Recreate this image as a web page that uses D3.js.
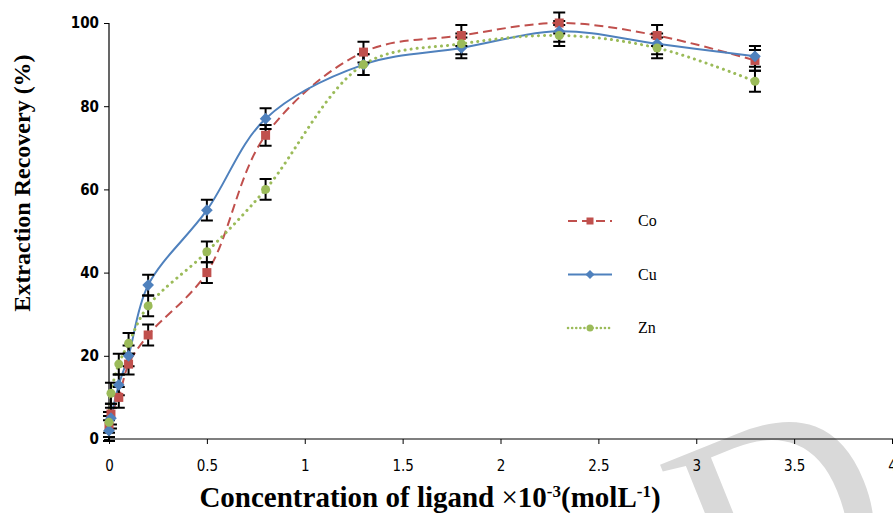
<!DOCTYPE html>
<html>
<head>
<meta charset="utf-8">
<script src="https://cdn.jsdelivr.net/npm/d3@7"></script>
<style>
  body { margin: 0; background: #fff; }
  svg { display: block; }
</style>
</head>
<body>
<script>
// concentration of ligand (x10^-3 mol/L)
const conc = [0, 0.01, 0.05, 0.1, 0.2, 0.5, 0.8, 1.3, 1.8, 2.3, 2.8, 3.3];
const coValues = [3, 6, 10, 18, 25, 40, 73, 93, 97, 100, 97, 91];
const cuValues = [2, 5, 13, 20, 37, 55, 77, 90, 94, 98, 95, 92];
const znValues = [4, 11, 18, 23, 32, 45, 60, 90, 95, 97, 94, 86];
const errValues = [2.5, 2.5, 2.5, 2.5, 2.5, 2.5, 2.5, 2.5, 2.5, 2.5, 2.5, 2.5];
const xTicks = [0, 0.5, 1, 1.5, 2, 2.5, 3, 3.5, 4];
const yTicks = [0, 20, 40, 60, 80, 100];

const series = [
  {name: "Co", values: coValues, color: "#C0504D", dash: "9,5", shape: "square"},
  {name: "Cu", values: cuValues, color: "#4F81BD", dash: null, shape: "diamond"},
  {name: "Zn", values: znValues, color: "#9BBB59", dash: "0.1,6", shape: "circle"}
];

const width = 893, height = 513;
const svg = d3.select("body").append("svg")
  .attr("width", width)
  .attr("height", height);

// watermark
svg.append("text")
  .attr("transform", "translate(815, 600) rotate(-22)")
  .attr("text-anchor", "middle")
  .attr("font-family", "Liberation Serif")
  .attr("font-size", 280)
  .attr("fill", "#d9d9d9")
  .text("D");

const xscale = d3.scaleLinear().domain([0, 4]).range([109, 892]);
const yscale = d3.scaleLinear().domain([0, 100]).range([439, 23]);

const xaxis = d3.axisBottom(xscale)
  .tickValues(xTicks)
  .tickFormat(d3.format("~g"))
  .tickSize(5)
  .tickPadding(16);

const yaxis = d3.axisLeft(yscale)
  .tickValues(yTicks)
  .tickSize(5)
  .tickPadding(5);

const gx = svg.append("g")
  .attr("transform", `translate(0, ${yscale(0)})`)
  .call(xaxis);
gx.select(".domain").attr("d", `M${xscale(0)},0H${width}`).attr("stroke-width", 1.2);
gx.selectAll("text")
  .attr("font-family", "'Liberation Sans Narrow', 'DejaVu Sans Condensed', sans-serif")
  .attr("font-size", 15)
  .attr("fill", "#000");

const gy = svg.append("g")
  .attr("transform", `translate(${xscale(0)}, 0)`)
  .call(yaxis);
gy.select(".domain").attr("d", `M0,${yscale(100)}V${yscale(0)}`).attr("stroke-width", 1.2);
gy.selectAll("text")
  .attr("font-family", "'Liberation Sans Narrow', 'DejaVu Sans Condensed', sans-serif")
  .attr("font-weight", "bold")
  .attr("font-size", 15)
  .attr("fill", "#000");

// axis titles
svg.append("text")
  .attr("transform", "translate(30, 183) rotate(-90)")
  .attr("text-anchor", "middle")
  .attr("font-family", "Liberation Serif")
  .attr("font-weight", "bold")
  .attr("font-size", 24)
  .text("Extraction Recovery (%)");

const xt = svg.append("text")
  .attr("x", 430)
  .attr("y", 507)
  .attr("text-anchor", "middle")
  .attr("font-family", "Liberation Serif")
  .attr("font-weight", "bold")
  .attr("font-size", 29);
xt.append("tspan").text("Concentration of ligand ");
xt.append("tspan").attr("font-weight", "normal").text("\u00d7");
xt.append("tspan").text("10");
xt.append("tspan").attr("dy", -10).attr("font-size", 17).text("-3");
xt.append("tspan").attr("dy", 10).text("(molL");
xt.append("tspan").attr("dy", -10).attr("font-size", 17).text("-1");
xt.append("tspan").attr("dy", 10).text(")");

const line = d3.line()
  .x((d, i) => xscale(conc[i]))
  .y(d => yscale(d))
  .curve(d3.curveCatmullRom.alpha(0.5));

function drawMarker(g, shape, color, x, y, s) {
  if (shape === "square") {
    g.append("rect").attr("x", x - s / 2).attr("y", y - s / 2)
      .attr("width", s).attr("height", s).attr("fill", color);
  } else if (shape === "diamond") {
    const r = s * 0.65;
    g.append("path").attr("d", `M${x},${y - r}L${x + r},${y}L${x},${y + r}L${x - r},${y}Z`)
      .attr("fill", color);
  } else {
    g.append("circle").attr("cx", x).attr("cy", y).attr("r", s / 2).attr("fill", color);
  }
}

series.forEach(s => {
  svg.append("path")
    .attr("d", line(s.values))
    .attr("fill", "none")
    .attr("stroke", s.color)
    .attr("stroke-width", s.name === "Zn" ? 3 : 2)
    .attr("stroke-linecap", s.name === "Zn" ? "round" : "butt")
    .attr("stroke-dasharray", s.dash);
});

series.forEach(s => {
  const g = svg.append("g");
  s.values.forEach((v, i) => {
    const x = xscale(conc[i]);
    const y1 = yscale(v + errValues[i]), y2 = yscale(v - errValues[i]);
    g.append("path")
      .attr("d", `M${x},${y1}V${y2}M${x - 6},${y1}H${x + 6}M${x - 6},${y2}H${x + 6}`)
      .attr("stroke", "#000")
      .attr("stroke-width", 2)
      .attr("fill", "none");
  });
});

series.forEach(s => {
  const g = svg.append("g");
  s.values.forEach((v, i) => drawMarker(g, s.shape, s.color, xscale(conc[i]), yscale(v), 9));
});

// legend
series.forEach((s, i) => {
  const y = 221 + i * 53.5;
  const g = svg.append("g");
  g.append("path")
    .attr("d", `M568,${y}H612`)
    .attr("stroke", s.color)
    .attr("stroke-width", s.name === "Zn" ? 2.5 : 2)
    .attr("stroke-linecap", s.name === "Zn" ? "round" : "butt")
    .attr("stroke-dasharray", s.name === "Zn" ? "0.1,4" : s.dash);
  drawMarker(g, s.shape, s.color, 590, y, 7);
  g.append("text")
    .attr("x", 638)
    .attr("y", y + 5)
    .attr("font-family", "Liberation Serif")
    .attr("font-size", 16)
    .text(s.name);
});
</script>
</body>
</html>
